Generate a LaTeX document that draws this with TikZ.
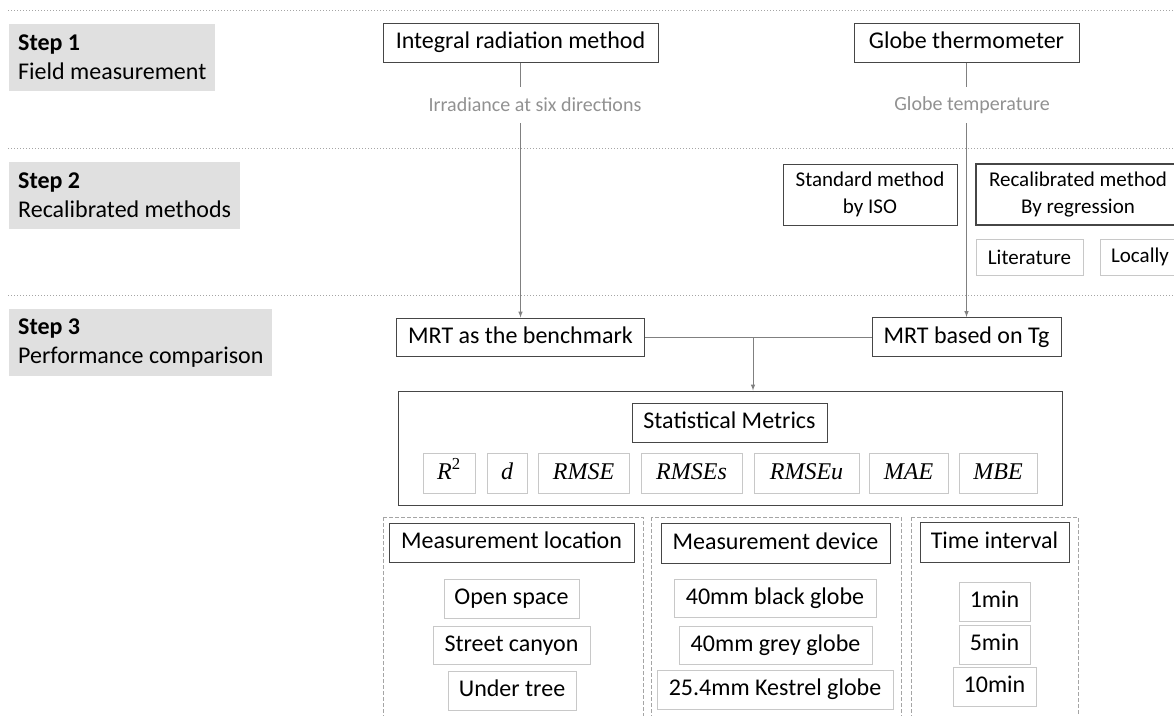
\documentclass[tikz,border=0pt]{standalone}
\usepackage{fontspec}
\setmainfont{Carlito}
\newfontfamily\metricfont{Liberation Serif}
\usetikzlibrary{arrows}

\definecolor{stepgray}{RGB}{224,224,224}
\definecolor{edgedark}{RGB}{70,70,70}
\definecolor{edgesoft}{RGB}{200,200,200}
\definecolor{linkgray}{RGB}{128,128,128}
\definecolor{notegray}{RGB}{145,145,145}
\definecolor{rulegray}{RGB}{165,165,165}

\tikzset{
  darkedge/.style={draw=edgedark, line width=1pt, inner sep=0pt},
  softedge/.style={draw=edgesoft, line width=1pt, inner sep=0pt},
  strut/.style={text height=17pt, text depth=5pt},
  mainbox/.style={darkedge, strut},
  softbox/.style={softedge, strut},
  stepbox/.style={fill=stepgray, align=left, inner xsep=9pt, inner ysep=8pt, anchor=north west, minimum height=67pt},
  note/.style={text=notegray, font=\fontsize{20pt}{24pt}\selectfont, inner sep=0pt, minimum height=36pt},
  link/.style={draw=linkgray, line width=1pt},
  panel/.style={draw=rulegray, line width=1pt, dash pattern=on 4pt off 2pt},
  divider/.style={draw=rulegray, line width=1pt, dash pattern=on 1pt off 2pt},
}

\begin{document}
\begin{tikzpicture}[x=1pt, y=-1pt, >=latex, font=\fontsize{24pt}{29pt}\selectfont]
  \useasboundingbox (0,0) rectangle (1174,715);
  \clip (0,0) rectangle (1174,715);

  % step rows
  \draw[divider] (8,10) -- (1174,10);
  \draw[divider] (8,148) -- (1174,148);
  \draw[divider] (8,295) -- (1174,295);
  \node[stepbox] (step1) at (9,24) {\textbf{Step 1}\\Field measurement};
  \node[stepbox] (step2) at (9,162) {\textbf{Step 2}\\Recalibrated methods};
  \node[stepbox] (step3) at (9,309) {\textbf{Step 3}\\Performance comparison};

  % step 1
  \node[mainbox, minimum width=275pt, minimum height=39pt] (integral) at (520.5,42.5) {Integral radiation method};
  \node[mainbox, minimum width=225pt, minimum height=39pt] (globe) at (966.5,42.5) {Globe thermometer};
  \node[note] (irr) at (535,105) {Irradiance at six directions};
  \node[note] (tglabel) at (972,105) {Globe temperature};

  % step 2
  \node[darkedge, align=center, font=\fontsize{21pt}{27pt}\selectfont, minimum width=174pt, minimum height=61pt] (iso) at (870,194.5) {Standard method\\by ISO};
  \node[darkedge, line width=1.4pt, align=center, font=\fontsize{21pt}{27pt}\selectfont, minimum width=204pt, minimum height=61pt] (recal) at (1078,194.5) {Recalibrated method\\By regression};
  \node[softedge, font=\fontsize{21pt}{25pt}\selectfont, minimum width=107pt, minimum height=36pt] (lit) at (1029.5,257) {Literature};
  \node[softedge, font=\fontsize{21pt}{25pt}\selectfont, minimum width=80pt, minimum height=36pt] (local) at (1140,257) {Locally};

  % step 3
  \node[mainbox, minimum width=248pt, minimum height=38pt] (bench) at (520.5,337) {MRT as the benchmark};
  \node[mainbox, minimum width=189pt, minimum height=39pt] (tgmrt) at (966.5,337) {MRT based on Tg};
  \node[darkedge, minimum width=664pt, minimum height=114pt] (metrics) at (730,448) {};
  \node[mainbox, minimum width=195pt, minimum height=39pt] (stat) at (729.5,422.5) {Statistical Metrics};
  \foreach \nm/\cx/\bw/\lbl in {r2/449/52/{R\textsuperscript{\upshape 2}}, dd/507/40/d, rmse/583.5/91/RMSE,
      rmses/691.5/101/RMSEs, rmseu/806.5/105/RMSEu, mae/908.5/79/MAE, mbe/998/78/MBE}
    \node[softbox, minimum width=\bw, minimum height=40pt, font=\fontsize{24pt}{29pt}\metricfont\itshape] (\nm) at (\cx,473) {\lbl};

  \draw[panel] (383,517) rectangle (643,760);
  \draw[panel] (651,517) rectangle (901,760);
  \draw[panel] (911,517) rectangle (1078,760);
  \node[mainbox, minimum width=245pt, minimum height=39pt] (loc) at (511.5,542.5) {Measurement location};
  \node[mainbox, minimum width=229pt, minimum height=40pt] (dev) at (775.5,543) {Measurement device};
  \node[mainbox, minimum width=149pt, minimum height=40pt] (tint) at (994.5,542) {Time interval};
  \node[softbox, minimum width=135pt, minimum height=39pt] (open) at (511.5,598.5) {Open space};
  \node[softbox, minimum width=157pt, minimum height=38pt] (street) at (511.5,645) {Street canyon};
  \node[softbox, minimum width=128pt, minimum height=39pt] (tree) at (512,690.5) {Under tree};
  \node[softbox, minimum width=202pt, minimum height=38pt] (black) at (775,598) {40mm black globe};
  \node[softbox, minimum width=193pt, minimum height=38pt] (grey) at (775.5,645) {40mm grey globe};
  \node[softbox, minimum width=236pt, minimum height=39pt] (kestrel) at (775,689.5) {25.4mm Kestrel globe};
  \node[softbox, minimum width=71pt, minimum height=39pt] (m1) at (994.5,601.5) {1min};
  \node[softbox, minimum width=71pt, minimum height=39pt] (m5) at (994.5,644.5) {5min};
  \node[softbox, minimum width=83pt, minimum height=39pt] (m10) at (994.5,686.5) {10min};

  % connectors
  \draw[link] (integral) -- (integral |- irr.north);
  \draw[link,->] (integral |- irr.south) -- (bench);
  \draw[link] (globe) -- (globe |- tglabel.north);
  \draw[link,->] (globe |- tglabel.south) -- (tgmrt);
  \draw[link] (bench) -- (tgmrt);
  \coordinate (join) at (753,337);
  \draw[link,->] (join) -- (join |- metrics.north);
\end{tikzpicture}
\end{document}
